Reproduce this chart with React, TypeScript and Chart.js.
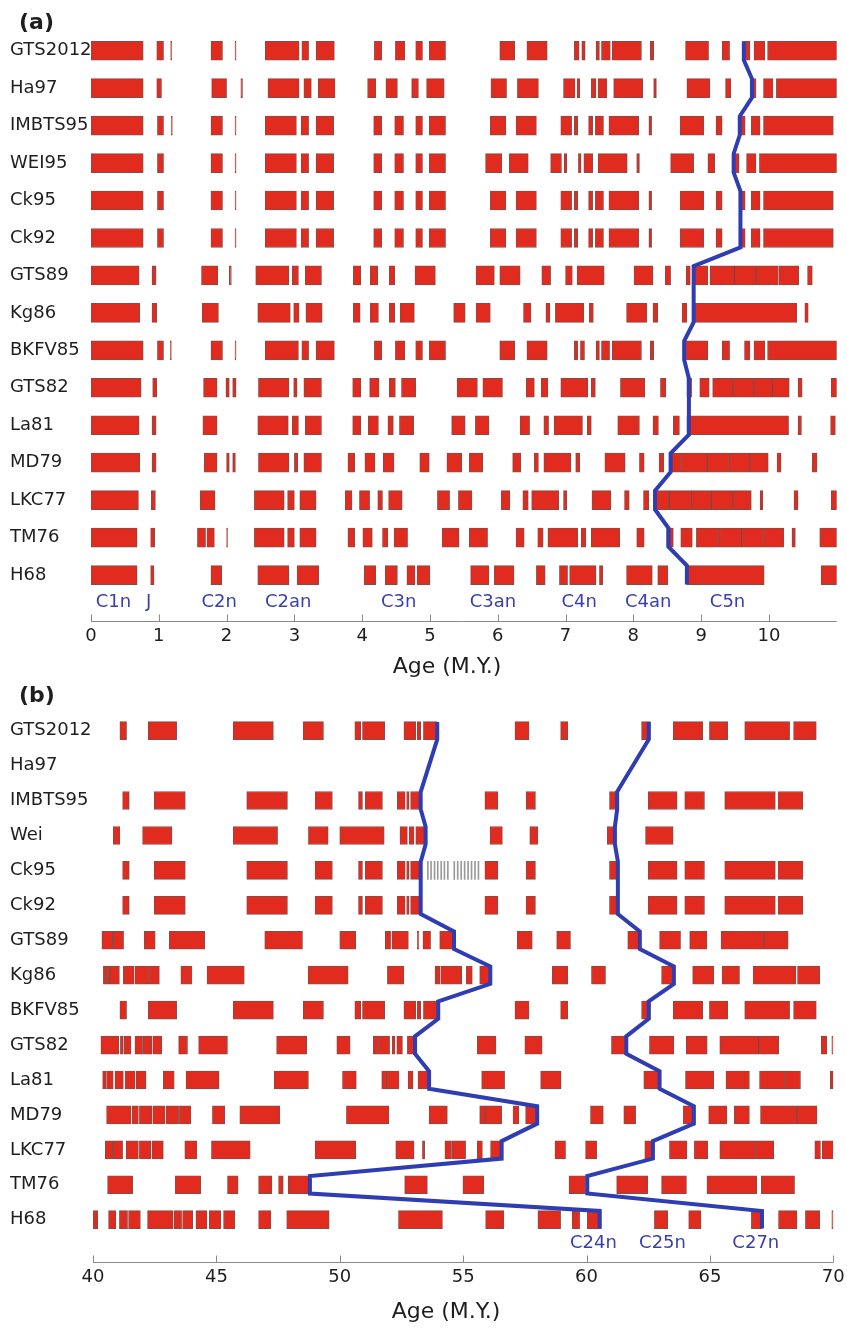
import React, { useEffect, useRef } from "react";
import { Chart, registerables } from "chart.js";
Chart.register(...registerables);

type Iv = [number, number];

// ---------- Panel (a): 0 - 11 Ma ----------
const ROWS_A = ["GTS2012", "Ha97", "IMBTS95", "WEI95", "Ck95", "Ck92", "GTS89", "Kg86", "BKFV85", "GTS82", "La81", "MD79", "LKC77", "TM76", "H68"];

const A_GTS2012: Iv[] = [[0, 0.77], [0.97, 1.07], [1.175, 1.19], [1.77, 1.94], [2.125, 2.14], [2.57, 3.07], [3.11, 3.21], [3.32, 3.59], [4.18, 4.29], [4.49, 4.63], [4.79, 4.89], [4.99, 5.23], [6.03, 6.25], [6.43, 6.73], [7.13, 7.2], [7.24, 7.29], [7.45, 7.5], [7.53, 7.66], [7.69, 8.12], [8.25, 8.3], [8.77, 9.11], [9.31, 9.42], [9.64, 9.72], [9.78, 9.94], [9.98, 11.0]];
const A_HA97: Iv[] = [[0, 0.77], [0.97, 1.04], [1.78, 2.0], [2.21, 2.235], [2.61, 3.07], [3.14, 3.25], [3.35, 3.6], [4.08, 4.2], [4.35, 4.52], [4.73, 4.83], [4.95, 5.21], [5.9, 6.13], [6.29, 6.6], [6.97, 7.14], [7.17, 7.21], [7.38, 7.45], [7.48, 7.61], [7.71, 8.14], [8.3, 8.34], [8.79, 9.13], [9.36, 9.44], [9.73, 9.81], [9.92, 10.06], [10.11, 11.0]];
const A_IMBTS95: Iv[] = [[0, 0.77], [0.98, 1.07], [1.185, 1.2], [1.77, 1.94], [2.125, 2.14], [2.57, 3.03], [3.1, 3.21], [3.32, 3.58], [4.17, 4.29], [4.48, 4.61], [4.79, 4.89], [4.99, 5.23], [5.89, 6.12], [6.27, 6.57], [6.93, 7.09], [7.13, 7.18], [7.34, 7.4], [7.44, 7.56], [7.64, 8.08], [8.23, 8.27], [8.69, 9.04], [9.22, 9.31], [9.58, 9.65], [9.74, 9.87], [9.92, 10.95]];
const A_WEI95: Iv[] = [[0, 0.77], [0.98, 1.07], [1.77, 1.94], [2.125, 2.14], [2.57, 3.03], [3.1, 3.21], [3.32, 3.58], [4.17, 4.29], [4.48, 4.61], [4.79, 4.89], [4.99, 5.23], [5.82, 6.06], [6.17, 6.45], [6.78, 6.94], [6.98, 7.02], [7.19, 7.23], [7.27, 7.4], [7.48, 7.91], [8.05, 8.09], [8.55, 8.89], [9.1, 9.2], [9.49, 9.56], [9.67, 9.81], [9.86, 11.0]];
const A_CK95: Iv[] = [[0, 0.77], [0.98, 1.07], [1.77, 1.94], [2.125, 2.14], [2.57, 3.03], [3.1, 3.21], [3.32, 3.58], [4.17, 4.29], [4.48, 4.61], [4.79, 4.89], [4.99, 5.23], [5.89, 6.12], [6.27, 6.57], [6.93, 7.09], [7.13, 7.18], [7.34, 7.4], [7.44, 7.56], [7.64, 8.08], [8.23, 8.27], [8.69, 9.04], [9.22, 9.31], [9.58, 9.65], [9.74, 9.87], [9.92, 10.95]];
const A_CK92: Iv[] = [[0, 0.77], [0.98, 1.07], [1.77, 1.94], [2.125, 2.14], [2.57, 3.03], [3.1, 3.21], [3.32, 3.58], [4.17, 4.29], [4.48, 4.61], [4.79, 4.89], [4.99, 5.23], [5.89, 6.12], [6.27, 6.57], [6.93, 7.09], [7.13, 7.18], [7.34, 7.4], [7.44, 7.56], [7.64, 8.08], [8.23, 8.27], [8.69, 9.04], [9.22, 9.31], [9.58, 9.65], [9.74, 9.87], [9.92, 10.95]];
const A_GTS89: Iv[] = [[0, 0.71], [0.9, 0.96], [1.63, 1.87], [2.04, 2.07], [2.43, 2.92], [2.97, 3.06], [3.16, 3.4], [3.87, 3.98], [4.12, 4.23], [4.4, 4.48], [4.78, 5.08], [5.68, 5.95], [6.03, 6.33], [6.65, 6.78], [7.0, 7.1], [7.17, 7.57], [8.01, 8.29], [8.47, 8.55], [8.78, 8.84], [8.89, 9.1], [9.13, 9.49], [9.49, 9.81], [9.81, 10.14], [10.15, 10.44], [10.57, 10.64]];
const A_KG86: Iv[] = [[0, 0.72], [0.9, 0.97], [1.64, 1.88], [2.46, 2.94], [2.99, 3.07], [3.17, 3.41], [3.87, 3.97], [4.12, 4.24], [4.4, 4.48], [4.56, 4.77], [5.35, 5.52], [5.68, 5.89], [6.38, 6.49], [6.71, 6.77], [6.85, 7.27], [7.35, 7.41], [7.9, 8.2], [8.29, 8.36], [8.72, 8.79], [8.91, 10.41], [10.53, 10.58]];
const A_BKFV85: Iv[] = [[0, 0.77], [0.98, 1.07], [1.17, 1.185], [1.77, 1.94], [2.125, 2.14], [2.57, 3.06], [3.11, 3.21], [3.32, 3.59], [4.18, 4.29], [4.49, 4.63], [4.79, 4.89], [4.99, 5.23], [6.03, 6.25], [6.43, 6.73], [7.13, 7.18], [7.22, 7.28], [7.45, 7.5], [7.53, 7.65], [7.69, 8.12], [8.25, 8.3], [8.77, 9.1], [9.31, 9.42], [9.64, 9.72], [9.78, 9.94], [9.98, 11.0]];
const A_GTS82: Iv[] = [[0, 0.74], [0.91, 0.97], [1.66, 1.86], [1.99, 2.04], [2.09, 2.14], [2.47, 2.92], [2.99, 3.04], [3.14, 3.4], [3.86, 3.98], [4.11, 4.25], [4.4, 4.49], [4.58, 4.79], [5.4, 5.7], [5.78, 6.07], [6.42, 6.54], [6.64, 6.74], [6.93, 7.33], [7.38, 7.44], [7.81, 8.17], [8.4, 8.48], [8.79, 8.86], [8.98, 9.12], [9.17, 9.47], [9.47, 9.78], [9.78, 10.05], [10.05, 10.3], [10.43, 10.49], [10.92, 11.0]];
const A_LA81: Iv[] = [[0, 0.71], [0.9, 0.96], [1.65, 1.86], [2.46, 2.91], [2.97, 3.06], [3.16, 3.4], [3.86, 3.98], [4.09, 4.24], [4.38, 4.46], [4.55, 4.76], [5.32, 5.52], [5.67, 5.87], [6.33, 6.47], [6.68, 6.75], [6.83, 7.25], [7.32, 7.38], [7.77, 8.09], [8.29, 8.37], [8.59, 8.68], [8.79, 10.29], [10.43, 10.48], [10.91, 10.98]];
const A_MD79: Iv[] = [[0, 0.72], [0.9, 0.96], [1.67, 1.86], [2.0, 2.04], [2.09, 2.13], [2.47, 2.92], [3.0, 3.05], [3.14, 3.4], [3.79, 3.89], [4.04, 4.19], [4.31, 4.47], [4.85, 4.99], [5.25, 5.47], [5.58, 5.78], [6.22, 6.34], [6.54, 6.6], [6.68, 7.08], [7.15, 7.21], [7.58, 7.88], [8.09, 8.16], [8.38, 8.45], [8.55, 8.71], [8.71, 9.09], [9.09, 9.42], [9.42, 9.72], [9.72, 9.99], [10.12, 10.18], [10.64, 10.71]];
const A_LKC77: Iv[] = [[0, 0.7], [0.89, 0.95], [1.61, 1.83], [2.41, 2.85], [2.9, 3.0], [3.08, 3.32], [3.75, 3.85], [3.96, 4.11], [4.23, 4.3], [4.39, 4.59], [5.11, 5.29], [5.42, 5.62], [6.05, 6.18], [6.37, 6.45], [6.5, 6.9], [6.97, 7.02], [7.39, 7.67], [7.87, 7.94], [8.15, 8.23], [8.33, 8.53], [8.53, 8.86], [8.86, 9.15], [9.15, 9.47], [9.47, 9.74], [9.87, 9.91], [10.37, 10.43], [10.92, 11.0]];
const A_TM76: Iv[] = [[0, 0.68], [0.88, 0.94], [1.57, 1.69], [1.71, 1.82], [2.0, 2.015], [2.41, 2.85], [2.9, 3.0], [3.08, 3.32], [3.79, 3.89], [4.01, 4.15], [4.3, 4.38], [4.47, 4.67], [5.18, 5.43], [5.58, 5.85], [6.27, 6.39], [6.59, 6.67], [6.74, 7.18], [7.23, 7.3], [7.38, 7.8], [8.05, 8.16], [8.49, 8.59], [8.7, 8.87], [8.93, 9.27], [9.27, 9.6], [9.6, 9.92], [9.92, 10.22], [10.34, 10.39], [10.75, 11.0]];
const A_H68: Iv[] = [[0, 0.68], [0.88, 0.93], [1.77, 1.93], [2.46, 2.92], [3.04, 3.36], [4.03, 4.2], [4.34, 4.52], [4.66, 4.78], [4.81, 5.0], [5.6, 5.87], [5.95, 6.24], [6.57, 6.7], [6.91, 7.03], [7.06, 7.45], [7.5, 7.55], [7.9, 8.28], [8.36, 8.51], [8.79, 9.93], [10.77, 11.0]];

const A_ROWS_DATA: Iv[][] = [A_GTS2012, A_HA97, A_IMBTS95, A_WEI95, A_CK95, A_CK92, A_GTS89, A_KG86, A_BKFV85, A_GTS82, A_LA81, A_MD79, A_LKC77, A_TM76, A_H68];
const A_C5N_ONSET: (number | null)[] = [9.63, 9.75, 9.57, 9.48, 9.58, 9.58, 8.89, 8.89, 8.75, 8.82, 8.82, 8.55, 8.32, 8.52, 8.79];
const A_TICKS = [0, 1, 2, 3, 4, 5, 6, 7, 8, 9, 10];
const A_CHRONS = ["C1n", "J", "C2n", "C2an", "C3n", "C3an", "C4n", "C4an", "C5n"];
const A_CHRON_AGES = [0.33, 0.85, 1.89, 2.91, 4.54, 5.93, 7.2, 8.22, 9.39];

// ---------- Panel (b): 40 - 70 Ma ----------
const ROWS_B = ["GTS2012", "Ha97", "IMBTS95", "Wei", "Ck95", "Ck92", "GTS89", "Kg86", "BKFV85", "GTS82", "La81", "MD79", "LKC77", "TM76", "H68"];

const B_GTS2012: Iv[] = [[41.09, 41.36], [42.24, 43.39], [45.68, 47.31], [48.52, 49.34], [50.61, 50.85], [50.92, 51.82], [52.6, 53.08], [53.14, 53.28], [53.39, 53.95], [57.1, 57.67], [58.95, 59.24], [62.23, 62.59], [63.51, 64.71], [64.98, 65.72], [66.41, 68.23], [68.39, 69.31]];
const B_HA97: Iv[] = [];
const B_IMBTS95: Iv[] = [[41.2, 41.47], [42.48, 43.74], [46.23, 47.88], [49.0, 49.7], [50.76, 50.92], [51.03, 51.73], [52.33, 52.65], [52.71, 52.81], [52.87, 53.25], [55.88, 56.41], [57.55, 57.93], [60.93, 61.24], [62.5, 63.67], [63.98, 64.78], [65.6, 67.65], [67.76, 68.77]];
const B_WEI: Iv[] = [[40.82, 41.09], [42.01, 43.2], [45.68, 47.48], [48.73, 49.53], [50.0, 51.8], [52.44, 52.74], [52.81, 53.01], [53.08, 53.44], [56.09, 56.59], [57.7, 58.03], [60.84, 61.15], [62.39, 63.51]];
const B_CK95: Iv[] = [[41.2, 41.47], [42.48, 43.74], [46.23, 47.88], [49.0, 49.7], [50.76, 50.92], [51.03, 51.73], [52.33, 52.65], [52.71, 52.81], [52.87, 53.25], [55.88, 56.41], [57.55, 57.93], [60.93, 61.24], [62.5, 63.67], [63.98, 64.78], [65.6, 67.65], [67.76, 68.77]];
const B_CK92: Iv[] = [[41.2, 41.47], [42.48, 43.74], [46.23, 47.88], [49.0, 49.7], [50.76, 50.92], [51.03, 51.73], [52.33, 52.65], [52.71, 52.81], [52.87, 53.25], [55.88, 56.41], [57.55, 57.93], [60.93, 61.24], [62.5, 63.67], [63.98, 64.78], [65.6, 67.65], [67.76, 68.77]];
const B_GTS89: Iv[] = [[40.36, 40.8], [40.82, 41.24], [42.08, 42.52], [43.09, 44.53], [46.96, 48.49], [50.0, 50.65], [51.84, 52.06], [52.11, 52.78], [53.14, 53.21], [53.37, 53.68], [54.05, 54.63], [57.19, 57.8], [58.79, 59.35], [61.67, 62.14], [62.96, 63.81], [64.18, 64.88], [65.45, 67.19], [67.19, 68.17]];
const B_KG86: Iv[] = [[40.42, 40.55], [40.55, 40.69], [40.69, 41.07], [41.23, 41.67], [41.71, 42.25], [42.25, 42.69], [43.56, 44.01], [44.62, 46.13], [48.72, 50.34], [51.93, 52.6], [53.86, 54.05], [54.09, 54.94], [55.13, 55.37], [55.67, 56.15], [58.61, 59.24], [60.2, 60.77], [63.04, 63.54], [64.3, 65.16], [65.49, 66.2], [66.75, 68.49], [68.55, 69.45]];
const B_BKFV85: Iv[] = [[41.09, 41.36], [42.24, 43.39], [45.68, 47.31], [48.52, 49.34], [50.61, 50.85], [50.92, 51.82], [52.6, 53.08], [53.14, 53.28], [53.39, 53.95], [57.1, 57.67], [58.95, 59.24], [62.23, 62.59], [63.51, 64.71], [64.98, 65.72], [66.41, 68.23], [68.39, 69.31]];
const B_GTS82: Iv[] = [[40.32, 41.04], [41.11, 41.23], [41.27, 41.54], [41.7, 42.01], [42.04, 42.38], [42.42, 42.79], [43.47, 43.83], [44.28, 45.45], [47.44, 48.66], [49.88, 50.42], [51.36, 51.57], [51.57, 52.02], [52.13, 52.24], [52.31, 52.54], [52.74, 53.05], [55.57, 56.33], [57.5, 58.2], [61.01, 61.58], [62.55, 63.54], [64.04, 64.89], [65.4, 66.98], [66.98, 67.79], [69.51, 69.74], [69.94, 70.0]];
const B_LA81: Iv[] = [[40.39, 40.53], [40.55, 40.82], [40.89, 41.23], [41.3, 41.7], [41.74, 42.15], [42.85, 43.29], [43.77, 45.11], [47.34, 48.73], [50.11, 50.67], [51.7, 51.89], [51.89, 52.4], [52.77, 52.97], [53.17, 53.62], [55.75, 56.68], [58.14, 58.97], [62.32, 62.96], [64.01, 65.16], [65.65, 66.6], [67.01, 68.06], [68.06, 68.67], [69.88, 70.0]];
const B_MD79: Iv[] = [[40.55, 41.54], [41.58, 41.84], [41.88, 42.38], [42.42, 42.92], [42.96, 43.47], [43.5, 43.97], [44.84, 45.34], [45.95, 47.57], [50.27, 51.99], [53.62, 54.36], [55.67, 55.89], [55.89, 56.56], [57.02, 57.26], [57.53, 58.03], [60.16, 60.68], [61.51, 61.99], [63.92, 64.28], [64.95, 65.69], [65.99, 66.6], [67.05, 68.53], [68.53, 69.34]];
const B_LKC77: Iv[] = [[40.5, 40.8], [40.82, 41.2], [41.34, 41.84], [41.88, 42.35], [42.39, 42.85], [43.72, 44.21], [44.8, 46.37], [49.0, 50.65], [52.27, 53.01], [53.35, 53.44], [54.26, 54.53], [54.56, 55.1], [55.57, 55.78], [56.11, 56.52], [58.72, 59.15], [59.96, 60.41], [62.36, 62.73], [63.36, 64.07], [64.37, 64.91], [65.4, 66.85], [66.85, 67.59], [69.25, 69.48], [69.55, 70.0]];
const B_TM76: Iv[] = [[40.59, 41.61], [43.33, 44.37], [45.45, 45.88], [46.71, 47.25], [47.52, 47.71], [47.91, 48.76], [52.63, 53.55], [54.99, 55.84], [59.29, 59.96], [61.22, 62.48], [63.04, 64.05], [64.88, 66.9], [67.08, 68.43]];
const B_H68: Iv[] = [[40.0, 40.19], [40.63, 40.93], [41.07, 41.4], [41.44, 41.92], [42.21, 43.25], [43.29, 43.59], [43.63, 44.04], [44.17, 44.62], [44.71, 45.18], [45.29, 45.75], [46.71, 47.21], [47.85, 49.57], [52.38, 54.16], [55.91, 56.65], [58.03, 58.95], [59.42, 59.72], [60.03, 60.6], [62.75, 63.29], [64.14, 64.64], [66.68, 67.11], [67.78, 68.53], [68.87, 69.45], [69.94, 70.0]];

const B_ROWS_DATA: Iv[][] = [B_GTS2012, B_HA97, B_IMBTS95, B_WEI, B_CK95, B_CK92, B_GTS89, B_KG86, B_BKFV85, B_GTS82, B_LA81, B_MD79, B_LKC77, B_TM76, B_H68];
const B_C24N_ONSET: (number | null)[] = [53.95, null, 53.28, 53.48, 53.28, 53.28, 54.63, 56.1, 53.99, 53.05, 53.62, 58.0, 56.56, 48.79, 60.53];
const B_C27N_ONSET: (number | null)[] = [62.52, null, 61.24, 61.15, 61.27, 61.27, 62.16, 63.54, 62.52, 61.61, 62.96, 64.35, 62.69, 60.03, 67.11];
const B_CK95_HATCH = [53.55, 53.68, 53.82, 53.95, 54.09, 54.22, 54.36, 54.62, 54.76, 54.9, 55.04, 55.18, 55.32, 55.46, 55.6];
const B_HATCH_ROW = 4;
const B_TICKS = [40, 45, 50, 55, 60, 65, 70];
const B_CHRONS = ["C24n", "C25n", "C27n"];
const B_CHRON_AGES = [60.28, 63.08, 66.86];

// ---------- styling ----------
const FONT = '"DejaVu Sans", "Liberation Sans", sans-serif';
const RED = "#e12b1f";
const RED_EDGE = "rgba(115,45,40,0.85)";
const BLUE = "#2f3db3";
const CHRON_BLUE = "#3a3fae";
const AXIS_GRAY = "#8a8a8a";
const TEXT = "#1e1e1e";

interface PanelSpec {
  width: number;
  height: number;
  xMin: number;
  xMax: number;
  yMin: number;
  yMax: number;
  padTop: number;
  padLeft: number;
  padRight: number;
  yAxisWidth: number;
  xAxisHeight: number;
  barThickness: number;
  rowNames: string[];
  rows: Iv[][];
  lines: (number | null)[][];
  hatch: number[];
  hatchRow: number;
  ticks: number[];
  chrons: string[];
  chronAges: number[];
  chronRow: number;
}

function buildChart(canvas: HTMLCanvasElement, p: PanelSpec) {
  const bars = p.rows.flatMap((ivs, i) => ivs.map((iv) => ({ x: [iv[0], iv[1]], y: i })));
  const hatch = p.hatch.map((a) => ({ x: [a, a + 0.04], y: p.hatchRow }));
  const lineSets = p.lines.map((vals) =>
    vals.flatMap((v, i) => (v == null ? [] : [{ x: v, y: i - 0.25 }, { x: v, y: i + 0.25 }]))
  );

  const decor = {
    id: "decor",
    afterDatasetsDraw(chart: any) {
      const { ctx, chartArea, scales } = chart;
      const xs = scales.x;
      const ys = scales.y;
      ctx.save();
      ctx.strokeStyle = AXIS_GRAY;
      ctx.lineWidth = 1;
      const by = Math.round(chartArea.bottom) + 0.5;
      ctx.beginPath();
      ctx.moveTo(chartArea.left, by);
      ctx.lineTo(chartArea.right, by);
      ctx.stroke();
      for (const t of p.ticks) {
        const px = Math.round(xs.getPixelForValue(t)) + 0.5;
        ctx.beginPath();
        ctx.moveTo(px, by);
        ctx.lineTo(px, by - 7);
        ctx.stroke();
      }
      ctx.fillStyle = CHRON_BLUE;
      ctx.font = `18px ${FONT}`;
      ctx.textAlign = "center";
      ctx.textBaseline = "middle";
      p.chrons.forEach((c, i) => {
        ctx.fillText(c, xs.getPixelForValue(p.chronAges[i]), ys.getPixelForValue(p.chronRow));
      });
      ctx.restore();
    },
  };

  const datasets: any[] = [
    ...lineSets.map((d) => ({
      type: "line",
      data: d,
      borderColor: BLUE,
      borderWidth: 4,
      pointRadius: 0,
      tension: 0,
      fill: false,
      order: 0,
      clip: false,
    })),
    {
      type: "bar",
      indexAxis: "y",
      grouped: false,
      data: hatch,
      backgroundColor: "#9a9a9a",
      borderWidth: 0,
      barThickness: p.barThickness,
      borderSkipped: false,
      order: 1,
    },
    {
      type: "bar",
      indexAxis: "y",
      grouped: false,
      data: bars,
      backgroundColor: RED,
      borderColor: RED_EDGE,
      borderWidth: 1,
      borderSkipped: false,
      barThickness: p.barThickness,
      order: 2,
    },
  ];

  return new Chart(canvas, {
    type: "bar",
    data: { datasets },
    plugins: [decor],
    options: {
      responsive: false,
      animation: false,
      events: [],
      layout: { padding: { top: p.padTop, left: p.padLeft, right: p.padRight, bottom: 0 } },
      plugins: { legend: { display: false }, tooltip: { enabled: false }, title: { display: false } },
      scales: {
        x: {
          type: "linear",
          position: "bottom",
          offset: false,
          min: p.xMin,
          max: p.xMax,
          grid: { display: false, offset: false },
          border: { display: false },
          afterBuildTicks: (axis: any) => {
            axis.ticks = p.ticks.map((v) => ({ value: v }));
          },
          afterFit: (axis: any) => {
            axis.height = p.xAxisHeight;
            axis.paddingLeft = 0;
            axis.paddingRight = 0;
          },
          ticks: {
            autoSkip: false,
            maxRotation: 0,
            padding: -3,
            color: TEXT,
            font: { family: FONT, size: 18 },
            callback: (v: any) => String(v),
          },
        },
        y: {
          type: "linear",
          position: "left",
          offset: false,
          reverse: true,
          min: p.yMin,
          max: p.yMax,
          grid: { display: false, offset: false },
          border: { display: false },
          afterBuildTicks: (axis: any) => {
            axis.ticks = p.rowNames.map((_, i) => ({ value: i }));
          },
          afterFit: (axis: any) => {
            axis.width = p.yAxisWidth;
            axis.paddingTop = 0;
            axis.paddingBottom = 0;
          },
          ticks: {
            autoSkip: false,
            crossAlign: "far",
            padding: 0,
            color: TEXT,
            font: { family: FONT, size: 18 },
            callback: (v: any) => p.rowNames[v] ?? "",
          },
        },
      },
    } as any,
  });
}

const PANEL_A: PanelSpec = {
  width: 847,
  height: 690,
  xMin: 0,
  xMax: 11,
  yMin: -0.3,
  yMax: 15.227,
  padTop: 39.5,
  padLeft: 10,
  padRight: 10.3,
  yAxisWidth: 81,
  xAxisHeight: 69,
  barThickness: 19,
  rowNames: ROWS_A,
  rows: A_ROWS_DATA,
  lines: [A_C5N_ONSET],
  hatch: [],
  hatchRow: 0,
  ticks: A_TICKS,
  chrons: A_CHRONS,
  chronAges: A_CHRON_AGES,
  chronRow: 14.72,
};

const PANEL_B: PanelSpec = {
  width: 847,
  height: 643,
  xMin: 40,
  xMax: 70,
  yMin: -0.3,
  yMax: 15.211,
  padTop: 30.2,
  padLeft: 10,
  padRight: 13.7,
  yAxisWidth: 83,
  xAxisHeight: 71,
  barThickness: 18,
  rowNames: ROWS_B,
  rows: B_ROWS_DATA,
  lines: [B_C24N_ONSET, B_C27N_ONSET],
  hatch: B_CK95_HATCH,
  hatchRow: B_HATCH_ROW,
  ticks: B_TICKS,
  chrons: B_CHRONS,
  chronAges: B_CHRON_AGES,
  chronRow: 14.667,
};

function Panel({ spec, top }: { spec: PanelSpec; top: number }) {
  const ref = useRef<HTMLCanvasElement | null>(null);
  useEffect(() => {
    if (!ref.current) return;
    const chart = buildChart(ref.current, spec);
    return () => chart.destroy();
  }, [spec]);
  return (
    <canvas
      ref={ref}
      width={spec.width}
      height={spec.height}
      style={{ position: "absolute", left: 0, top, width: spec.width, height: spec.height }}
    />
  );
}

const textBase: React.CSSProperties = {
  position: "absolute",
  fontFamily: FONT,
  color: TEXT,
  whiteSpace: "nowrap",
};

export default function App() {
  return (
    <div style={{ position: "absolute", left: 0, top: 0, width: 847, height: 1333, background: "#fff", overflow: "hidden" }}>
      <Panel spec={PANEL_A} top={0} />
      <Panel spec={PANEL_B} top={690} />
      <div style={{ ...textBase, left: 19, top: 8, fontSize: 22, fontWeight: "bold", lineHeight: "28px" }}>(a)</div>
      <div style={{ ...textBase, left: 19, top: 681, fontSize: 22, fontWeight: "bold", lineHeight: "28px" }}>(b)</div>
      <div style={{ ...textBase, left: 447, top: 653, fontSize: 22, lineHeight: "26px", transform: "translateX(-50%)" }}>Age (M.Y.)</div>
      <div style={{ ...textBase, left: 446, top: 1298, fontSize: 22, lineHeight: "26px", transform: "translateX(-50%)" }}>Age (M.Y.)</div>
    </div>
  );
}
